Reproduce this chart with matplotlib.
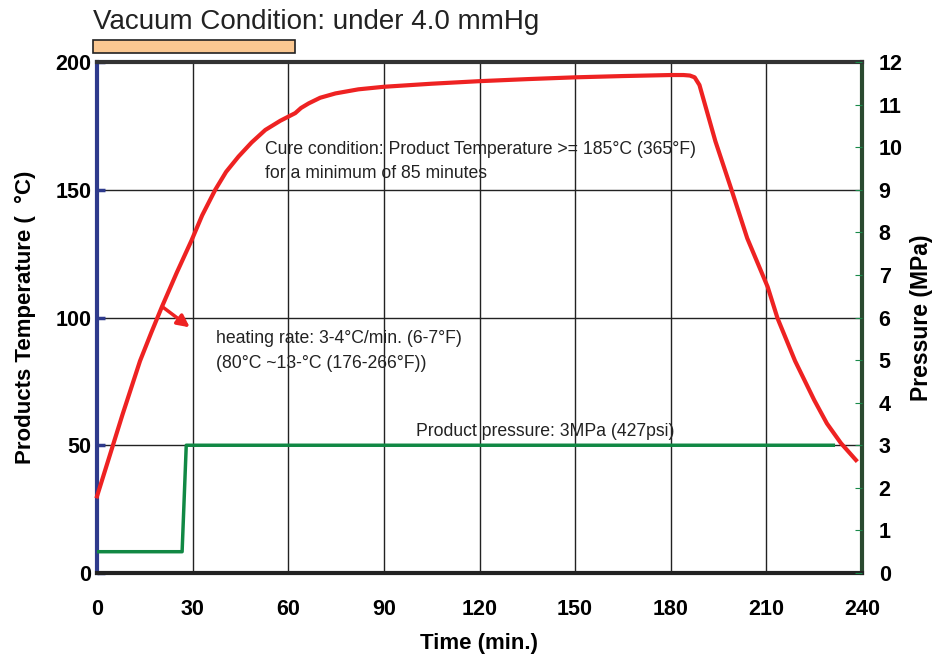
import matplotlib
matplotlib.use("Agg")
import matplotlib.pyplot as plt
from matplotlib.patches import Rectangle

plt.rcParams['font.family'] = ['Liberation Sans', 'DejaVu Sans']

# Data
temp_t = [0, 4, 8, 13.5, 17, 20.3, 25, 29.7, 33, 37.1, 40.5, 44.4, 48.5, 52.8, 57.5, 62.2, 64, 66.4, 70, 74.8,
          82, 90, 105, 120, 135, 150, 165, 180, 184, 186, 187.5, 189, 194, 198.9, 204, 210.4, 213.5, 219, 225, 229, 233.4, 238.1]
temp_v = [30, 46, 62, 83, 94, 104, 117.5, 130.3, 140, 150, 157, 163, 168.5, 173.4, 177, 180, 182, 183.8, 186, 187.7,
          189.3, 190.3, 191.5, 192.5, 193.3, 194, 194.5, 194.9, 194.9, 194.7, 194, 191, 169, 150.6, 131, 112, 99.7, 83, 67.7, 58.5, 50.8, 44.2]
press_t = [0, 26.7, 28, 231]
press_v = [0.5, 0.5, 3, 3]

x_ticks = [0, 30, 60, 90, 120, 150, 180, 210, 240]
y_ticks = [0, 50, 100, 150, 200]
y2_ticks = list(range(0, 13))

title = "Vacuum Condition: under 4.0 mmHg"
cure_text = "Cure condition: Product Temperature >= 185\u00b0C (365\u00b0F)\nfor a minimum of 85 minutes"
heat_text = "heating rate: 3-4\u00b0C/min. (6-7\u00b0F)\n(80\u00b0C ~13-\u00b0C (176-266\u00b0F))"
press_text = "Product pressure: 3MPa (427psi)"

fig = plt.figure(figsize=(9.36, 6.61), dpi=100)
ax = fig.add_axes([97/936, 1-573/661, (862-97)/936, (573-62)/661])
ax.set_xlim(0, 240)
ax.set_ylim(0, 200)
ax.set_xticks(x_ticks)
ax.set_yticks(y_ticks)
ax.tick_params(axis='x', labelsize=15.5, length=0, pad=19)
ax.tick_params(axis='y', labelsize=15.5, length=6, width=2.5, direction='in', color='#2e3a8c', pad=4)
for lab in ax.get_xticklabels() + ax.get_yticklabels():
    lab.set_fontweight('bold')
ax.grid(True, color='#222222', linewidth=1.0)
ax.set_axisbelow(True)

ax.spines['left'].set_color('#2e3a8c')
ax.spines['left'].set_linewidth(3)
ax.spines['bottom'].set_color('#222222')
ax.spines['bottom'].set_linewidth(3)
ax.spines['top'].set_color('#333333')
ax.spines['top'].set_linewidth(3)
ax.spines['right'].set_color('#2a4a30')
ax.spines['right'].set_linewidth(3)

ax.plot(temp_t, temp_v, color='#ee2222', linewidth=3, solid_joinstyle='round', zorder=5, clip_on=False)

ax2 = ax.twinx()
ax2.set_ylim(0, 12)
ax2.set_yticks(y2_ticks)
ax2.tick_params(axis='y', labelsize=15.5, length=5, direction='in', color='#1a8a4a', pad=12)
for lab in ax2.get_yticklabels():
    lab.set_fontweight('bold')
for s in ax2.spines.values():
    s.set_visible(False)
ax2.plot(press_t, press_v, color='#118844', linewidth=2.5, zorder=4)

ax.set_ylabel("Products Temperature (  \u00b0C)", fontsize=16, fontweight='bold', labelpad=14)
ax.set_xlabel("Time (min.)", fontsize=16, fontweight='bold', labelpad=9)
ax2.set_ylabel("Pressure (MPa)", fontsize=16.5, fontweight='bold', labelpad=5)

fig.text(93/936, 1-22/661, title, fontsize=20, color='#222222', va='center', ha='left')
fig.patches.append(Rectangle((93/936, 1-53/661), (295-93)/936, 13/661, transform=fig.transFigure,
                             facecolor='#fbc891', edgecolor='#222222', linewidth=1.2))

ax.text(265/936, 1-161.5/661, cure_text, transform=fig.transFigure, fontsize=12.7, color='#222222',
        va='center', ha='left', linespacing=1.6)
ax.text(216/936, 1-351/661, heat_text, transform=fig.transFigure, fontsize=12.7, color='#222222',
        va='center', ha='left', linespacing=1.6)
ax.text(416/936, 1-431/661, press_text, transform=fig.transFigure, fontsize=12.7, color='#222222',
        va='center', ha='left')

ax.annotate("", xy=(192/936, 1-329/661), xytext=(160/936, 1-305/661),
            xycoords='figure fraction', textcoords='figure fraction',
            arrowprops=dict(arrowstyle='-|>', color='#ee2222', lw=2.5, mutation_scale=18))

fig.savefig("out.png", dpi=100)
